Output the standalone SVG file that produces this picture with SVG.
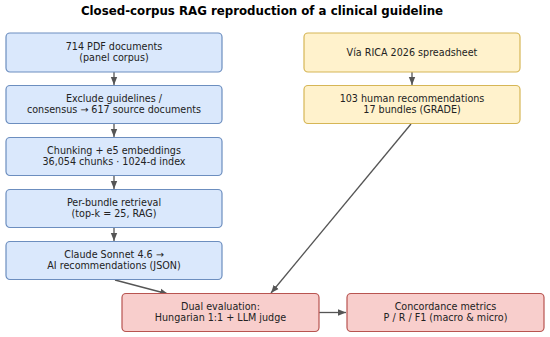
<svg xmlns="http://www.w3.org/2000/svg" width="550" height="337" viewBox="0 0 550 337">
<defs>
<style>
.t{font-family:"DejaVu Sans","Liberation Sans",sans-serif;font-size:9.6px;fill:#222;text-anchor:middle}
.title{font-family:"DejaVu Sans","Liberation Sans",sans-serif;font-size:11.8px;font-weight:bold;fill:#000;text-anchor:middle}
.b{fill:#dae8fc;stroke:#6c8ebf;stroke-width:1.2}
.y{fill:#fff2cc;stroke:#d6b656;stroke-width:1.2}
.r{fill:#f8cecc;stroke:#b85450;stroke-width:1.2}
.c{fill:none;stroke:#555;stroke-width:1.3;marker-end:url(#ah)}
</style>
<marker id="ah" markerUnits="userSpaceOnUse" markerWidth="10" markerHeight="8" refX="8" refY="4" orient="auto">
<path d="M0,0.8 L8,4 L0,7.2 Z" fill="#555"/>
</marker>
</defs>
<rect width="550" height="337" fill="#fff"/>
<text class="title" x="262" y="15">Closed-corpus RAG reproduction of a clinical guideline</text>

<g id="connectors">
<line class="c" x1="114" y1="72" x2="114" y2="85"/>
<line class="c" x1="114" y1="124" x2="114" y2="137"/>
<line class="c" x1="114" y1="176" x2="114" y2="189"/>
<line class="c" x1="114" y1="228" x2="114" y2="241"/>
<line class="c" x1="412" y1="72" x2="412" y2="85"/>
<line class="c" x1="115" y1="280" x2="168" y2="294"/>
<line class="c" x1="411" y1="124" x2="271" y2="293"/>
<line class="c" x1="319" y1="312.5" x2="346" y2="312.5"/>
</g>

<g id="n1"><rect class="b" x="6" y="33" width="216" height="39" rx="4"/>
<text class="t" x="114" y="50">714 PDF documents</text><text class="t" x="114" y="61">(panel corpus)</text></g>
<g id="n2"><rect class="b" x="6" y="85.5" width="216" height="38" rx="4"/>
<text class="t" x="114" y="102">Exclude guidelines /</text><text class="t" x="114" y="113">consensus → 617 source documents</text></g>
<g id="n3"><rect class="b" x="6" y="137.5" width="216" height="38" rx="4"/>
<text class="t" x="114" y="154">Chunking + e5 embeddings</text><text class="t" x="114" y="165">36,054 chunks · 1024-d index</text></g>
<g id="n4"><rect class="b" x="6" y="189.5" width="216" height="38" rx="4"/>
<text class="t" x="114" y="206">Per-bundle retrieval</text><text class="t" x="114" y="217">(top-k = 25, RAG)</text></g>
<g id="n5"><rect class="b" x="6" y="241.5" width="216" height="38" rx="4"/>
<text class="t" x="114" y="258">Claude Sonnet 4.6 →</text><text class="t" x="114" y="269">AI recommendations (JSON)</text></g>

<g id="n6"><rect class="y" x="304" y="33" width="216" height="39" rx="4"/>
<text class="t" x="412" y="55.5">Vía RICA 2026 spreadsheet</text></g>
<g id="n7"><rect class="y" x="304" y="85.5" width="216" height="38" rx="4"/>
<text class="t" x="412" y="102">103 human recommendations</text><text class="t" x="412" y="113">17 bundles (GRADE)</text></g>

<g id="n8"><rect class="r" x="122" y="293.5" width="197" height="38" rx="4"/>
<text class="t" x="220.5" y="310">Dual evaluation:</text><text class="t" x="220.5" y="321">Hungarian 1:1 + LLM judge</text></g>
<g id="n9"><rect class="r" x="347" y="293.5" width="197" height="38" rx="4"/>
<text class="t" x="445.5" y="310">Concordance metrics</text><text class="t" x="445.5" y="321">P / R / F1 (macro &amp; micro)</text></g>
</svg>
